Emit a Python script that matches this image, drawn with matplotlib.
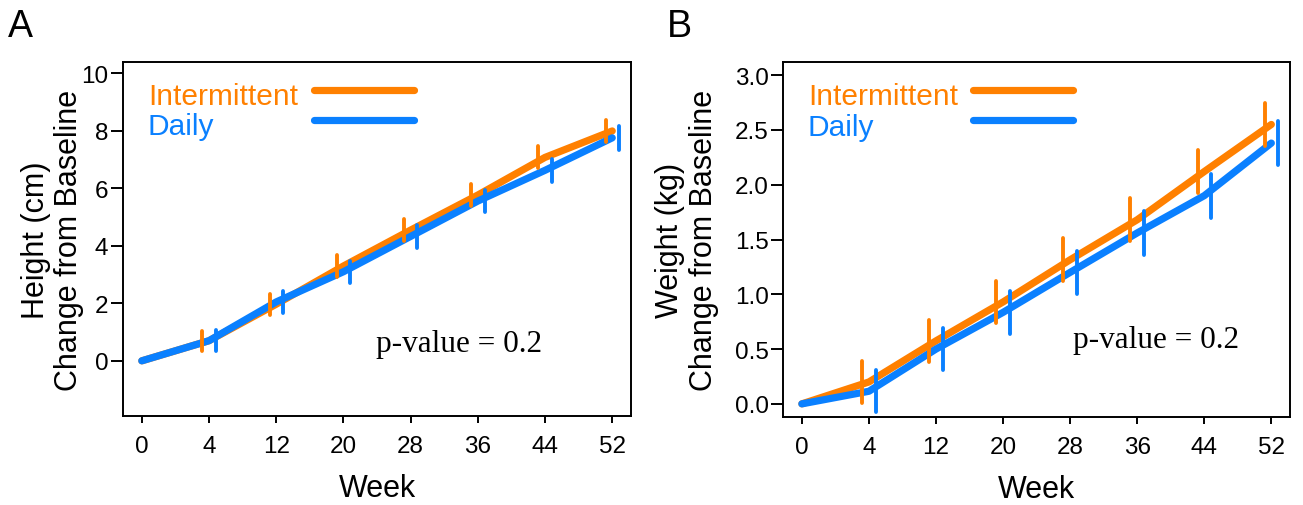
import numpy as np
import matplotlib
matplotlib.use("Agg")
import matplotlib.pyplot as plt

plt.rcParams["font.family"] = ["Liberation Sans", "DejaVu Sans"]

weeks = [0, 4, 12, 20, 28, 36, 44, 52]

# height change from baseline (cm), mean and half-width of the bar
height_int = [0, 0.70, 1.97, 3.30, 4.55, 5.77, 7.08, 8.00]
height_int_err = [0, 0.35, 0.37, 0.37, 0.38, 0.37, 0.38, 0.38]
height_day = [0, 0.70, 2.05, 3.10, 4.33, 5.56, 6.63, 7.76]
height_day_err = [0, 0.36, 0.38, 0.39, 0.39, 0.39, 0.39, 0.41]

# weight change from baseline (kg)
weight_int = [0, 0.20, 0.575, 0.93, 1.315, 1.68, 2.12, 2.55]
weight_int_err = [0, 0.19, 0.19, 0.195, 0.195, 0.195, 0.195, 0.20]
weight_day = [0, 0.115, 0.50, 0.835, 1.20, 1.56, 1.90, 2.38]
weight_day_err = [0, 0.19, 0.19, 0.195, 0.198, 0.198, 0.20, 0.20]

height_ticks = [0, 2, 4, 6, 8, 10]
weight_ticks = [0.0, 0.5, 1.0, 1.5, 2.0, 2.5, 3.0]

C_INT = "#FF8000"
C_DAY = "#0A80FF"
LW = 5.2
EW = 2.8
OFF = 0.1

fig = plt.figure(figsize=(13.03, 5.06), dpi=100)
axA = fig.add_axes([0.0944, 0.1759, 0.3899, 0.6996])
axB = fig.add_axes([0.6010, 0.1739, 0.3891, 0.7016])


def draw_panel(ax, y_int, e_int, y_day, e_day, yticks, ylim, fmt, ylabel, ylab_x, pval_xy):
    x = np.arange(len(weeks))
    y_int = np.asarray(y_int); e_int = np.asarray(e_int)
    y_day = np.asarray(y_day); e_day = np.asarray(e_day)

    ax.plot(x, y_int, color=C_INT, lw=LW, solid_capstyle="round", solid_joinstyle="round", zorder=2)
    ax.plot(x, y_day, color=C_DAY, lw=LW, solid_capstyle="round", solid_joinstyle="round", zorder=3)
    # error bars, skipped at baseline, shifted to either side of the visit
    xs = x[1:]
    ax.vlines(xs - OFF, (y_int - e_int)[1:], (y_int + e_int)[1:], color=C_INT, lw=EW,
              capstyle="round", zorder=4)
    ax.vlines(xs + OFF, (y_day - e_day)[1:], (y_day + e_day)[1:], color=C_DAY, lw=EW,
              capstyle="round", zorder=5)

    ax.set_xlim(-0.28, 7.28)
    ax.set_ylim(*ylim)
    ax.set_xticks(x)
    ax.set_xticklabels([str(w) for w in weeks])
    ax.set_yticks(yticks)
    ax.set_yticklabels([fmt.format(t) for t in yticks])
    ax.tick_params(axis="x", length=5, width=1.4, pad=9, labelsize=17.5)
    ax.tick_params(axis="y", length=9, width=1.4, pad=1.5, labelsize=17.5)
    for s in ax.spines.values():
        s.set_linewidth(1.4)

    ax.set_xlabel("Week", fontsize=22)
    ax.xaxis.set_label_coords(0.5, -0.16)
    ax.set_ylabel(ylabel, fontsize=22, linespacing=1.15, multialignment="center")
    ax.yaxis.set_label_coords(ylab_x, 0.5)

    # legend drawn by hand: coloured name, then a line sample
    ax.text(0.049, 0.903, "Intermittent", color=C_INT, fontsize=21.5, transform=ax.transAxes,
            ha="left", va="center")
    ax.text(0.049, 0.818, "Daily", color=C_DAY, fontsize=21.5, transform=ax.transAxes,
            ha="left", va="center")
    ax.plot([0.375, 0.572], [0.922, 0.922], color=C_INT, lw=LW, solid_capstyle="round",
            transform=ax.transAxes)
    ax.plot([0.375, 0.572], [0.836, 0.836], color=C_DAY, lw=LW, solid_capstyle="round",
            transform=ax.transAxes)

    ax.text(pval_xy[0], pval_xy[1], "p-value = 0.2", fontsize=22.5, family="Liberation Serif",
            transform=ax.transAxes, ha="center", va="center")


draw_panel(axA, height_int, height_int_err, height_day, height_day_err,
           height_ticks, (-1.92, 10.4), "{:g}", "Height (cm)\nChange from Baseline",
           -0.076, (0.661, 0.206))
draw_panel(axB, weight_int, weight_int_err, weight_day, weight_day_err,
           weight_ticks, (-0.12, 3.12), "{:.1f}", "Weight (kg)\nChange from Baseline",
           -0.127, (0.736, 0.217))

fig.text(0.006, 0.927, "A", fontsize=27, ha="left", va="baseline")
fig.text(0.512, 0.927, "B", fontsize=27, ha="left", va="baseline")

fig.savefig("out.png", dpi=100)
